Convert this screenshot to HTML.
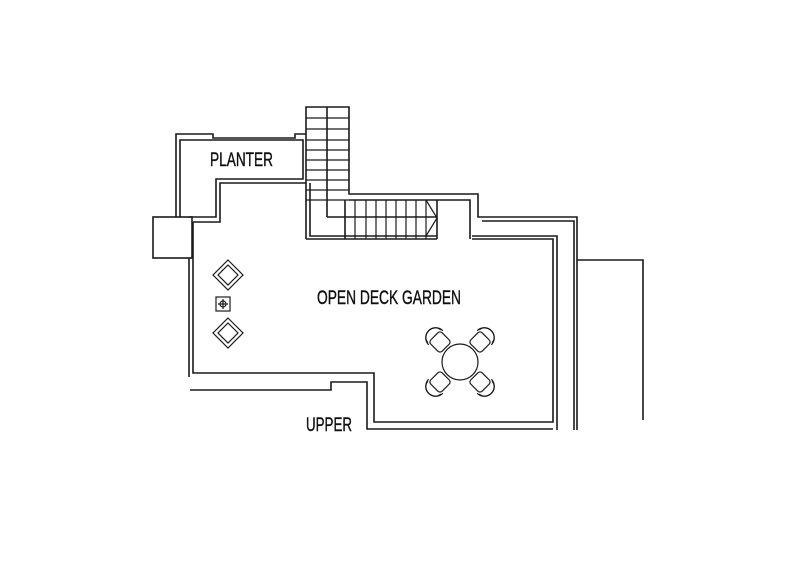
<!DOCTYPE html>
<html><head><style>
html,body{margin:0;padding:0;background:#fff;}
svg{display:block}
text{font-family:"Liberation Sans",sans-serif;fill:#111;stroke:#111;stroke-width:0.4;}
</style></head><body>
<svg width="800" height="566" viewBox="0 0 800 566" xmlns="http://www.w3.org/2000/svg">
<g fill="none" stroke="#1a1a1a" stroke-width="1.6">
<polyline points="176,217 176,134 213,134 213,138 295,138 295,134 306,134"/>
<polyline points="193,222 220,222 220,183 306,183"/>
<polyline points="180,217 180,140 303,140 303,179 216,179 216,217 189,217"/>
<rect x="153" y="217" width="39" height="41"/>
<polyline points="306,239 306,107 349,107 349,194 478,194 478,217 577,217 577,430"/>
<line x1="327" y1="107" x2="327" y2="217"/>
<polyline points="327,217 437,217"/>
<polyline points="310,183 310,236 437,236"/>
<line x1="306" y1="239" x2="437" y2="239"/>
<line x1="437" y1="200" x2="437" y2="239"/>
<polyline points="349,200 470,200 470,239"/>
<line x1="345" y1="200" x2="345" y2="239"/>
<polyline points="472,239 553,239 553,422 374,422 374,373 193,373 193,222"/>
<polyline points="472,236 557,236 557,430"/>
<polyline points="482,221 574,221 574,430"/>
<polyline points="189,258 189,377"/>
<polyline points="190,390 331,390 331,382 367,382 367,429 553,429"/>
<polyline points="577,260 643,260 643,420"/>
</g>
<g stroke="#1a1a1a" stroke-width="1.2" fill="none">
<line x1="306" y1="118" x2="349" y2="118"/>
<line x1="306" y1="129" x2="349" y2="129"/>
<line x1="306" y1="140" x2="349" y2="140"/>
<line x1="306" y1="150" x2="349" y2="150"/>
<line x1="306" y1="160" x2="349" y2="160"/>
<line x1="306" y1="170" x2="349" y2="170"/>
<line x1="306" y1="180" x2="349" y2="180"/>
<line x1="306" y1="190" x2="349" y2="190"/>
<line x1="306" y1="200" x2="349" y2="200"/>
<line x1="355" y1="200" x2="355" y2="239"/>
<line x1="366" y1="200" x2="366" y2="239"/>
<line x1="376" y1="200" x2="376" y2="239"/>
<line x1="386" y1="200" x2="386" y2="239"/>
<line x1="396" y1="200" x2="396" y2="239"/>
<line x1="406" y1="200" x2="406" y2="239"/>
<line x1="416" y1="200" x2="416" y2="239"/>
<line x1="426" y1="200" x2="426" y2="239"/>
<polyline points="426,200 437,218 426,236"/>
<polygon points="228,260 243,275 228,290 213,275"/>
<polygon points="228,265 238,275 228,285 218,275"/>
<polygon points="228,318 243,333 228,348 213,333"/>
<polygon points="228,323 238,333 228,343 218,333"/>
<rect x="216" y="297" width="14" height="14"/>
<circle cx="223" cy="304" r="3"/>
<line x1="223" y1="299" x2="223" y2="309"/>
<line x1="218" y1="304" x2="228" y2="304"/>
<circle cx="460" cy="362" r="18"/>
<g transform="translate(440,342) rotate(-45)"><rect x="-8" y="-8" width="16" height="16" rx="3"/><path d="M-10,-6 A10,10 0 0 1 10,-6"/><path d="M-9,-8 A9,8 0 0 1 9,-8"/></g>
<g transform="translate(480,342) rotate(45)"><rect x="-8" y="-8" width="16" height="16" rx="3"/><path d="M-10,-6 A10,10 0 0 1 10,-6"/><path d="M-9,-8 A9,8 0 0 1 9,-8"/></g>
<g transform="translate(440,382) rotate(-135)"><rect x="-8" y="-8" width="16" height="16" rx="3"/><path d="M-10,-6 A10,10 0 0 1 10,-6"/><path d="M-9,-8 A9,8 0 0 1 9,-8"/></g>
<g transform="translate(480,382) rotate(135)"><rect x="-8" y="-8" width="16" height="16" rx="3"/><path d="M-10,-6 A10,10 0 0 1 10,-6"/><path d="M-9,-8 A9,8 0 0 1 9,-8"/></g>
</g>
<text x="210" y="166" font-size="19" textLength="63" lengthAdjust="spacingAndGlyphs">PLANTER</text>
<text x="317" y="304" font-size="19" textLength="144" lengthAdjust="spacingAndGlyphs">OPEN DECK GARDEN</text>
<text x="306" y="431" font-size="19" textLength="46" lengthAdjust="spacingAndGlyphs">UPPER</text>
</svg>
</body></html>
